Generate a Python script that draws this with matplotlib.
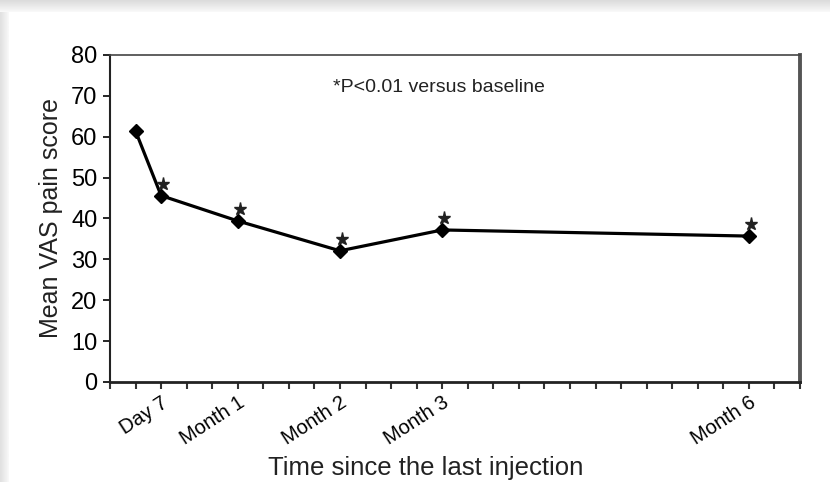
import numpy as np
import matplotlib
matplotlib.use("Agg")
import matplotlib.pyplot as plt
from matplotlib.transforms import ScaledTranslation

plt.rcParams['font.family'] = ['Liberation Sans', 'DejaVu Sans']

# datos (semanas desde la ultima inyeccion)
semanas = [0, 1, 4, 8, 12, 24]
vas = [61.4, 45.6, 39.4, 32.1, 37.2, 35.7]
significativo = [False, True, True, True, True, True]
etiquetas_pos = [1, 4, 8, 12, 24]
etiquetas = ["Day 7", "Month 1", "Month 2", "Month 3", "Month 6"]

fig = plt.figure(figsize=(8.3, 4.82), dpi=100)

# marco gris de la tarjeta
grad_top = np.linspace(0.86, 0.97, 12).reshape(-1, 1)
ax_top = fig.add_axes([0, 1 - 12 / 482, 1, 12 / 482])
ax_top.imshow(grad_top, cmap="gray", vmin=0, vmax=1, aspect="auto")
ax_top.axis("off")
grad_left = np.linspace(0.88, 0.97, 8).reshape(1, -1)
ax_left = fig.add_axes([0, 0, 8 / 830, 1 - 12 / 482])
ax_left.imshow(grad_left, cmap="gray", vmin=0, vmax=1, aspect="auto")
ax_left.axis("off")

ax = fig.add_axes([110 / 830, 1 - 382 / 482, 690 / 830, 327 / 482])
ax.plot(semanas, vas, color="black", lw=2.3, marker="D", ms=7.5, mfc="black", mec="black")

# asteriscos sobre los puntos
desplaz = ax.transData + ScaledTranslation(0.02, 0.12, fig.dpi_scale_trans)
xs = [s for s, f in zip(semanas, significativo) if f]
ys = [v for v, f in zip(vas, significativo) if f]
ax.plot(xs, ys, linestyle="none", marker="*", ms=9.5, color="#222222", transform=desplaz)

ax.text(0.323, 0.9, "*P<0.01 versus baseline", transform=ax.transAxes,
        fontsize=14, color="#222222", va="center")

ax.set_xlim(-1, 26)
ax.set_ylim(0, 80)
ax.set_yticks(range(0, 81, 10))
ax.set_xticks(etiquetas_pos)
ax.set_xticklabels(etiquetas, rotation=33, ha="right", rotation_mode="anchor", fontsize=14.5)
ax.set_xticks(range(-1, 27), minor=True)
ax.tick_params(axis="x", which="both", direction="out", length=5, width=1.5, color="#333333", pad=3)
ax.tick_params(axis="y", direction="out", length=5, width=1.2, labelsize=17, pad=4)

for lado, color, ancho in [("left", "#222222", 1.5), ("bottom", "#222222", 2),
                           ("top", "#444444", 1.2), ("right", "#555555", 2.8)]:
    ax.spines[lado].set_color(color)
    ax.spines[lado].set_linewidth(ancho)

ax.set_ylabel("Mean VAS pain score", fontsize=18, color="#222222", labelpad=6)
ax.set_xlabel("Time since the last injection", fontsize=18.5, color="#222222")
ax.xaxis.set_label_coords(0.457, -0.225)

plt.savefig("out.png", dpi=100)
plt.close()
